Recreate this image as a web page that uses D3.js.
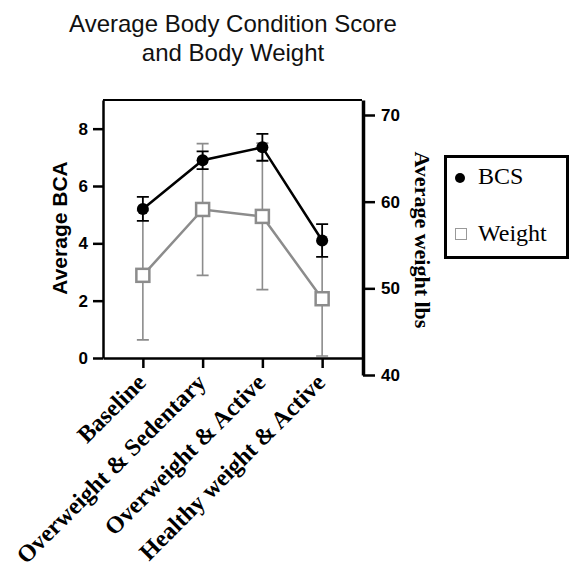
<!DOCTYPE html>
<html>
<head>
<meta charset="utf-8">
<script src="https://cdn.jsdelivr.net/npm/d3@7"></script>
<style>
  html, body { margin: 0; padding: 0; background: #fff; }
  svg { display: block; }
</style>
</head>
<body>
<svg id="chart" width="569" height="575"></svg>
<script>
const categories = ["Baseline", "Overweight & Sedentary", "Overweight & Active", "Healthy weight & Active"];
const bcs = [5.2, 6.9, 7.35, 4.1];
const bcsErr = [0.42, 0.31, 0.47, 0.57];
const weight = [51.5, 59.1, 58.3, 48.8];
const weightErr = [7.45, 7.6, 8.45, 6.6];
const leftTicks = [0, 2, 4, 6, 8];
const rightTicks = [40, 50, 60, 70];
const seriesNames = ["BCS", "Weight"];

const svg = d3.select("#chart");
const plot = { left: 103, right: 362, top: 100, bottom: 358 };
const grey = "#8c8c8c";
const sans = "'Liberation Sans', Arial, sans-serif";
const serif = "'Liberation Serif', 'Times New Roman', serif";

const x = d3.scalePoint().domain(categories).range([plot.left, plot.right]).padding(0.667);
const yL = d3.scaleLinear().domain([0, 9]).range([plot.bottom, plot.top]);
const yR = d3.scaleLinear().domain([40, 70]).range([375, 115]);
const yRTop = yR.invert(plot.top);

// Title
const title = svg.append("text").attr("text-anchor", "middle")
  .attr("font-family", sans).attr("font-size", 24).attr("fill", "#111");
title.append("tspan").attr("x", 233).attr("y", 32).text("Average Body Condition Score");
title.append("tspan").attr("x", 233).attr("y", 61).text("and Body Weight");

// Frame top border
svg.append("line").attr("x1", plot.left).attr("x2", plot.right).attr("y1", plot.top).attr("y2", plot.top)
  .attr("stroke", "#000").attr("stroke-width", 2);

// Left axis
const gL = svg.append("g").attr("transform", `translate(${plot.left},0)`)
  .call(d3.axisLeft(yL).tickValues(leftTicks).tickSize(10).tickSizeOuter(0).tickPadding(5));
gL.select(".domain").attr("stroke-width", 2.5);
gL.selectAll(".tick line").attr("stroke-width", 2.5);
gL.selectAll(".tick text").attr("font-family", sans).attr("font-weight", "bold").attr("font-size", 17).attr("fill", "#000");

// Bottom axis
const gB = svg.append("g").attr("transform", `translate(0,${plot.bottom})`)
  .call(d3.axisBottom(x).tickSize(10).tickSizeOuter(0));
gB.select(".domain").attr("stroke-width", 2.5);
gB.selectAll(".tick line").attr("stroke-width", 2.5);
gB.selectAll(".tick text")
  .attr("font-family", serif).attr("font-weight", "bold").attr("font-size", 24).attr("fill", "#000")
  .attr("text-anchor", "end").attr("dy", null).attr("y", 0)
  .attr("transform", "translate(4,26) rotate(-45)");

// Right axis
const gR = svg.append("g").attr("transform", `translate(${plot.right + 1},0)`)
  .call(d3.axisRight(yR.copy().domain([40, yRTop]).range([375, plot.top])).tickValues(rightTicks).tickSize(12).tickSizeOuter(0).tickPadding(6));
gR.select(".domain").attr("stroke-width", 3.5);
gR.selectAll(".tick line").attr("stroke-width", 2.5);
gR.selectAll(".tick text").attr("font-family", sans).attr("font-weight", "bold").attr("font-size", 17).attr("fill", "#000");

// Axis titles
svg.append("text").attr("transform", `translate(67,${228}) rotate(-90)`)
  .attr("text-anchor", "middle").attr("font-family", sans).attr("font-weight", "bold")
  .attr("font-size", 21).attr("fill", "#000").text("Average BCA");
svg.append("text").attr("transform", `translate(415,${240}) rotate(90)`)
  .attr("text-anchor", "middle").attr("font-family", serif).attr("font-weight", "bold")
  .attr("font-size", 22).attr("fill", "#000").text("Average weight lbs");

// Data rows
const wData = categories.map((c, i) => ({ c, v: weight[i], e: weightErr[i] }));
const bData = categories.map((c, i) => ({ c, v: bcs[i], e: bcsErr[i] }));
const cap = 6;

// Weight series (grey)
const gW = svg.append("g");
gW.selectAll(".werr").data(wData).enter().append("path")
  .attr("d", d => {
    const cx = x(d.c), t = yR(d.v + d.e), b = yR(d.v - d.e);
    return `M${cx},${t}V${b}M${cx - cap},${t}H${cx + cap}M${cx - cap},${b}H${cx + cap}`;
  })
  .attr("stroke", grey).attr("stroke-width", 1.6).attr("fill", "none");
gW.append("path").datum(wData)
  .attr("d", d3.line().x(d => x(d.c)).y(d => yR(d.v)))
  .attr("stroke", grey).attr("stroke-width", 2.5).attr("fill", "none");
gW.selectAll(".wpt").data(wData).enter().append("rect")
  .attr("x", d => x(d.c) - 6.5).attr("y", d => yR(d.v) - 6.5).attr("width", 13).attr("height", 13)
  .attr("fill", "#fff").attr("stroke", grey).attr("stroke-width", 2.5);

// BCS series (black)
const gC = svg.append("g");
gC.selectAll(".berr").data(bData).enter().append("path")
  .attr("d", d => {
    const cx = x(d.c), t = yL(d.v + d.e), b = yL(d.v - d.e);
    return `M${cx},${t}V${b}M${cx - cap},${t}H${cx + cap}M${cx - cap},${b}H${cx + cap}`;
  })
  .attr("stroke", "#000").attr("stroke-width", 1.8).attr("fill", "none");
gC.append("path").datum(bData)
  .attr("d", d3.line().x(d => x(d.c)).y(d => yL(d.v)))
  .attr("stroke", "#000").attr("stroke-width", 2.5).attr("fill", "none");
gC.selectAll(".bpt").data(bData).enter().append("circle")
  .attr("cx", d => x(d.c)).attr("cy", d => yL(d.v)).attr("r", 6).attr("fill", "#000");

// Legend
const lg = svg.append("g");
lg.append("rect").attr("x", 445.5).attr("y", 156.5).attr("width", 122).attr("height", 101)
  .attr("fill", "#fff").attr("stroke", "#000").attr("stroke-width", 3);
lg.append("circle").attr("cx", 460).attr("cy", 178).attr("r", 5).attr("fill", "#000");
lg.append("rect").attr("x", 455.5).attr("y", 228.5).attr("width", 11).attr("height", 11)
  .attr("fill", "#fff").attr("stroke", "#999").attr("stroke-width", 1);
lg.selectAll(".lt").data(seriesNames).enter().append("text")
  .attr("x", 478).attr("y", (d, i) => i === 0 ? 184 : 241)
  .attr("font-family", serif).attr("font-size", 24).attr("fill", "#000").text(d => d);
</script>
</body>
</html>
